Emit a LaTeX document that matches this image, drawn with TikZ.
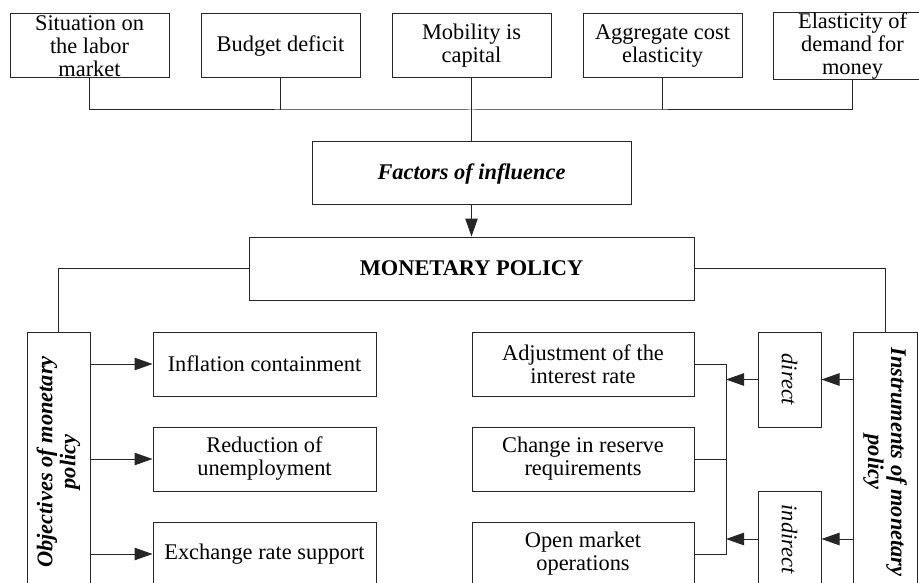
\documentclass[tikz,border=0pt]{standalone}
\usepackage{fontspec}
\setmainfont{Liberation Serif}
\usetikzlibrary{arrows.meta}
\tikzset{
  box/.style={draw=black!85, line width=1pt, fill=white, inner sep=0pt, align=center,
    font=\fontsize{22.4}{23}\selectfont},
  conn/.style={draw=black!85, line width=1pt},
  arr/.style={conn, -{Triangle[length=18pt,width=12.5pt]}},
  vlabel/.style={align=center, font=\fontsize{22.4}{23}\selectfont\bfseries\itshape},
  ilabel/.style={align=center, font=\fontsize{22.4}{23}\selectfont\itshape}
}
\begin{document}
\begin{tikzpicture}[x=1pt,y=-1pt]
\useasboundingbox (0,0) rectangle (919,583);
\clip (0,0) rectangle (919,583);
% top factor boxes
\node[box, minimum width=159, minimum height=64] (t1) at (89.5,46) {Situation on\\the labor\\market};
\node[box, minimum width=159, minimum height=64] (t2) at (280.5,46) {Budget deficit};
\node[box, minimum width=159, minimum height=64] (t3) at (471.5,46) {Mobility is\\capital};
\node[box, minimum width=159, minimum height=64] (t4) at (662.5,46) {Aggregate cost\\elasticity};
\node[box, minimum width=159, minimum height=64] (t5) at (852.5,46) {Elasticity of\\demand for\\money};
\coordinate (hub) at (471.5,110);
% factors and monetary policy
\node[box, minimum width=319, minimum height=63, font=\fontsize{22.4}{23}\selectfont\bfseries\itshape] (fact) at (471.5,173.5) {Factors of influence};
\node[box, minimum width=445, minimum height=63, font=\fontsize{22.4}{23}\selectfont\bfseries] (mon) at (471.5,268.5) {MONETARY POLICY};
% side boxes
\node[box, minimum width=63, minimum height=260,
  label={[vlabel, rotate=90]center:Objectives of monetary\\policy}] (obj) at (58.5,462) {};
\node[box, minimum width=64, minimum height=260,
  label={[vlabel, rotate=-90]center:Instruments of monetary\\policy}] (ins) at (885,462) {};
% objectives
\node[box, minimum width=223, minimum height=64] (o1) at (264.5,364) {Inflation containment};
\node[box, minimum width=223, minimum height=64] (o2) at (264.5,459) {Reduction of\\unemployment};
\node[box, minimum width=223, minimum height=64] (o3) at (264.5,554) {Exchange rate support};
% instruments
\node[box, minimum width=222, minimum height=64] (r1) at (583,364) {Adjustment of the\\interest rate};
\node[box, minimum width=222, minimum height=64] (r2) at (583,459) {Change in reserve\\requirements};
\node[box, minimum width=222, minimum height=64] (r3) at (583,554) {Open market\\operations};
\node[box, minimum width=63, minimum height=95,
  label={[ilabel, rotate=-90]center:direct}] (dir) at (789.5,379.5) {};
\node[box, minimum width=63, minimum height=96,
  label={[ilabel, rotate=-90]center:indirect}] (ind) at (789.5,539) {};
\coordinate (bus) at (726,364);
% connectors top
\draw[conn] (t1.south) |- (hub) -| (t5.south);
\draw[conn] (t2.south) -- (t2.south |- hub);
\draw[conn] (t4.south) -- (t4.south |- hub);
\draw[conn] (t3.south) -- (fact.north);
\draw[arr] (fact.south) -- (mon.north);
\draw[conn] (mon.west) -| (obj.north);
\draw[conn] (mon.east) -| (ins.north);
% objectives arrows
\draw[arr] (obj.east |- o1.west) -- (o1.west);
\draw[arr] (obj.east |- o2.west) -- (o2.west);
\draw[arr] (obj.east |- o3.west) -- (o3.west);
% instruments connectors
\draw[conn] (r1.east) -- (bus) -- (bus |- r3.east) -- (r3.east);
\draw[conn] (r2.east) -- (bus |- r2.east);
\draw[arr] (ins.west |- dir.east) -- (dir.east);
\draw[arr] (ins.west |- ind.east) -- (ind.east);
\draw[arr] (dir.west) -- (dir.west -| bus);
\draw[arr] (ind.west) -- (ind.west -| bus);
\end{tikzpicture}
\end{document}
